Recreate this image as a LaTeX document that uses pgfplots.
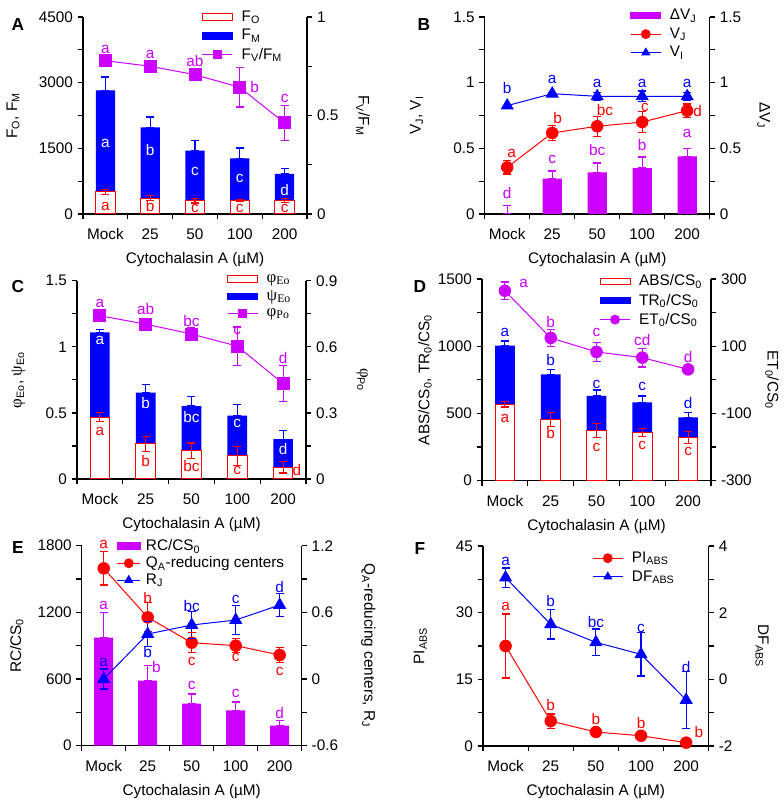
\documentclass[border=0pt]{standalone}
\usepackage{fontspec}
\setmainfont{Liberation Sans}
\newfontfamily\serif{Liberation Serif}[Scale=1.1]
\usepackage{pgfplots}
\pgfplotsset{compat=1.18}
\definecolor{vio}{RGB}{204,0,255}
\definecolor{bl}{RGB}{0,0,255}
\definecolor{rd}{RGB}{255,0,0}
\newcommand{\fs}{\fontsize{11.5}{13.5}\selectfont}
\newcommand{\sub}[1]{\textsubscript{#1}}
\newcommand{\lt}[4]{\node[text=#1, font=\fs, inner sep=0pt] at (axis cs:#2,#3) {#4};}
\newcommand{\eb}[4]{\addplot[color=#1, line width=0.85pt, mark=-, mark size=3pt, mark options={solid, line width=0.85pt, draw=#1}, forget plot] coordinates {(#2,#3) (#2,#4)};}
\newlength{\lgw}\setlength{\lgw}{22.5pt}
\pgfplotsset{
  base/.style={scale only axis, xmin=-0.5, xmax=4.5, clip=false,
    axis line style={-, line width=0.9pt},
    tick style={black, line width=0.9pt},
    tick align=outside, major tick length=4pt, minor tick length=4pt,
    minor y tick num=1,
    tick label style={font=\fs}, label style={font=\fs},
    legend style={font=\fs, draw=none, fill=none, inner sep=0pt, row sep=0.5pt,
      cells={anchor=west}, anchor=north west,
      /tikz/every odd column/.append style={column sep=4.5pt}},
    legend image code/.code={\draw[mark repeat=2,mark phase=2,##1] plot coordinates {(0pt,0pt) (0.5\lgw,0pt) (\lgw,0pt)};},
    legend image post style={mark size=3.3pt},
  },
  lft/.style={base, axis x line*=bottom, axis y line*=left,
    xtick={0,1,2,3,4}, xticklabels={Mock,25,50,100,200},
    major x tick style={draw=none},
    minor xtick={-0.5,0.5,1.5,2.5,3.5,4.5},
    xticklabel style={yshift=-3.5pt},
    xlabel shift=2.5pt,
    xlabel={Cytochalasin A (µM)}},
  rgt/.style={base, axis x line=none, axis y line*=right},
  yl/.style={ylabel style={at={([xshift=-#1]axis description cs:0,0.5)}, anchor=center}},
  yr/.style={ylabel style={at={([xshift=#1]axis description cs:1,0.5)}, anchor=center, rotate=180}},
  bars/.style={ybar, bar width=0.43, bar shift=0pt},
  barleg/.style 2 args={legend image code/.code={\draw[draw=#1, fill=#2, line width=0.75pt] (0pt,-2.5pt) rectangle (\lgw,2.5pt);}},
  ln/.style 2 args={#1, line width=0.75pt, mark=#2, mark options={fill=#1, draw=#1, solid}},
}
\begin{document}
\begin{tikzpicture}[x=0.75pt,y=0.75pt]
\useasboundingbox (0,0) rectangle (784,806);
\tikzset{plab/.style={font=\bfseries\fontsize{13}{15}\selectfont}}
\node[plab] at (18,781) {A};
\node[plab] at (424,781) {B};
\node[plab] at (18,519) {C};
\node[plab] at (420,519) {D};
\node[plab] at (18,258) {E};
\node[plab] at (420,257) {F};

% ---------------- A ----------------
\begin{axis}[lft, at={(62.25pt,444pt)}, anchor=south west, width=168pt, height=147.75pt,
  ymin=0, ymax=4500, ytick={0,1500,3000,4500}, yticklabels={0,1500,3000,4500},
  ylabel={F\sub{O}, F\sub{M}}, yl=52.5pt]
\addplot[bars, fill=bl, draw=none] coordinates {(0,2825) (1,1980) (2,1447) (3,1272) (4,914)};
\eb{bl}{0}{2825}{3130}\eb{bl}{1}{1980}{2216}\eb{bl}{2}{1447}{1683}\eb{bl}{3}{1272}{1508}\eb{bl}{4}{914}{1043}
\addplot[bars, fill=white, draw=rd, line width=0.75pt] coordinates {(0,503) (1,365) (2,305) (3,305) (4,305)};
\eb{rd}{0}{453}{553}\eb{rd}{1}{315}{415}\eb{rd}{2}{250}{360}\eb{rd}{3}{280}{330}\eb{rd}{4}{265}{345}
\lt{white}{0}{1622}{a}\lt{white}{1}{1470}{b}\lt{white}{2}{975}{c}\lt{white}{3}{822}{c}\lt{white}{4}{540}{d}
\lt{rd}{0}{175}{a}\lt{rd}{1}{175}{b}\lt{rd}{2}{137}{c}\lt{rd}{3}{137}{c}\lt{rd}{4}{137}{c}
\end{axis}
\begin{axis}[rgt, at={(62.25pt,444pt)}, anchor=south west, width=168pt, height=147.75pt,
  ymin=0, ymax=1, ytick={0,0.5,1}, yticklabels={0,0.5,1}, ylabel={F\sub{V}/F\sub{M}}, yr=42pt,
  legend style={at={(0.53,1.046)}}]
\addlegendimage{barleg={rd}{white}}\addlegendentry{F\sub{O}}
\addlegendimage{barleg={bl}{bl}}\addlegendentry{F\sub{M}}
\eb{vio}{0}{0.766}{0.790}\eb{vio}{1}{0.738}{0.762}\eb{vio}{2}{0.677}{0.737}\eb{vio}{3}{0.543}{0.743}\eb{vio}{4}{0.374}{0.550}
\addplot[ln={vio}{square*}, mark size=4.5pt] coordinates {(0,0.778) (1,0.750) (2,0.707) (3,0.643) (4,0.462)};
\addlegendentry{F\sub{V}/F\sub{M}}
\lt{vio}{0}{0.834}{a}\lt{vio}{1}{0.812}{a}\lt{vio}{2}{0.775}{ab}\lt{vio}{3.33}{0.645}{b}\lt{vio}{4}{0.585}{c}
\end{axis}

% ---------------- B ----------------
\begin{axis}[lft, at={(363.53pt,444pt)}, anchor=south west, width=168.75pt, height=147.75pt,
  ymin=0, ymax=1.5, ytick={0,0.5,1,1.5}, yticklabels={0,0.5,1,1.5}, ylabel={V\sub{J}, V\sub{I}}, yl=51pt,
  legend style={at={(0.646,1.054)}}]
\addplot[bars, fill=vio, draw=none, barleg={vio}{vio}] coordinates {(0,0) (1,0.269) (2,0.317) (3,0.350) (4,0.439)};
\addlegendentry{ΔV\sub{J}}
\eb{vio}{0}{0.004}{0.063}\eb{vio}{1}{0.269}{0.327}\eb{vio}{2}{0.317}{0.388}\eb{vio}{3}{0.350}{0.434}\eb{vio}{4}{0.439}{0.500}
\eb{rd}{0}{0.305}{0.405}\eb{rd}{1}{0.557}{0.677}\eb{rd}{2}{0.593}{0.743}\eb{rd}{3}{0.62}{0.78}\eb{rd}{4}{0.737}{0.837}
\addplot[ln={rd}{*}, mark size=4.3pt] coordinates {(0,0.355) (1,0.617) (2,0.668) (3,0.70) (4,0.787)};
\addlegendentry{V\sub{J}}
\eb{bl}{1}{0.904}{0.928}\eb{bl}{2}{0.866}{0.926}\eb{bl}{3}{0.856}{0.936}\eb{bl}{4}{0.866}{0.926}
\addplot[ln={bl}{triangle*}, mark size=5pt] coordinates {(0,0.825) (1,0.916) (2,0.896) (3,0.896) (4,0.896)};
\addlegendentry{V\sub{I}}
\lt{bl}{0}{0.959}{b}\lt{bl}{1}{1.023}{a}\lt{bl}{2}{0.997}{a}\lt{bl}{3}{0.997}{a}\lt{bl}{4}{0.997}{a}
\lt{rd}{0.1}{0.464}{a}\lt{rd}{1.12}{0.731}{b}\lt{rd}{2.17}{0.794}{bc}\lt{rd}{3.06}{0.815}{c}\lt{rd}{4.23}{0.782}{d}
\lt{vio}{0}{0.160}{d}\lt{vio}{1}{0.414}{c}\lt{vio}{2}{0.485}{bc}\lt{vio}{3}{0.523}{b}\lt{vio}{4}{0.612}{a}
\end{axis}
\begin{axis}[rgt, at={(363.53pt,444pt)}, anchor=south west, width=168.75pt, height=147.75pt,
  ymin=0, ymax=1.5, ytick={0,0.5,1,1.5}, yticklabels={0,0.5,1,1.5}, ylabel={ΔV\sub{J}}, yr=40.5pt]
\addplot[draw=none, forget plot] coordinates {(0,0)};
\end{axis}

% ---------------- C ----------------
\begin{axis}[lft, at={(57.75pt,245.25pt)}, anchor=south west, width=171.75pt, height=148.7pt,
  ymin=0, ymax=1.5, ytick={0,0.5,1,1.5}, yticklabels={0,0.5,1,1.5},
  ylabel={{\serif φ}\sub{Eo}, {\serif ψ}\sub{Eo}}, yl=44pt]
\addplot[bars, fill=bl, draw=none] coordinates {(0,1.109) (1,0.653) (2,0.552) (3,0.479) (4,0.302)};
\eb{bl}{0}{1.109}{1.134}\eb{bl}{1}{0.653}{0.716}\eb{bl}{2}{0.552}{0.623}\eb{bl}{3}{0.479}{0.562}\eb{bl}{4}{0.302}{0.368}
\addplot[bars, fill=white, draw=rd, line width=0.75pt] coordinates {(0,0.469) (1,0.265) (2,0.212) (3,0.174) (4,0.088)};
\eb{rd}{0}{0.436}{0.502}\eb{rd}{1}{0.21}{0.32}\eb{rd}{2}{0.152}{0.272}\eb{rd}{3}{0.104}{0.244}\eb{rd}{4}{0.045}{0.131}
\lt{white}{0}{1.051}{a}\lt{white}{1}{0.572}{b}\lt{white}{2}{0.466}{bc}\lt{white}{3}{0.421}{c}\lt{white}{4}{0.224}{d}
\lt{rd}{0}{0.358}{a}\lt{rd}{1}{0.136}{b}\lt{rd}{2}{0.098}{bc}\lt{rd}{3}{0.063}{c}\lt{rd}{4.3}{0.068}{d}
\end{axis}
\begin{axis}[rgt, at={(57.75pt,245.25pt)}, anchor=south west, width=171.75pt, height=148.7pt,
  ymin=0, ymax=0.9, ytick={0,0.3,0.6,0.9}, yticklabels={0,0.3,0.6,0.9},
  ylabel={{\serif φ}\sub{Po}}, yr=42pt, legend style={at={(0.654,1.047)}}]
\addlegendimage{barleg={rd}{white}}\addlegendentry{{\serif φ\sub{Eo}}}
\addlegendimage{barleg={bl}{bl}}\addlegendentry{{\serif ψ\sub{Eo}}}
\eb{vio}{0}{0.736}{0.746}\eb{vio}{1}{0.695}{0.711}\eb{vio}{2}{0.63}{0.686}\eb{vio}{3}{0.516}{0.69}\eb{vio}{4}{0.352}{0.514}
\addplot[ln={vio}{square*}, mark size=4.5pt] coordinates {(0,0.741) (1,0.703) (2,0.658) (3,0.603) (4,0.433)};
\addlegendentry{{\serif φ\sub{Po}}}
\lt{vio}{0}{0.797}{a}\lt{vio}{1}{0.771}{ab}\lt{vio}{2}{0.717}{bc}\lt{vio}{3}{0.676}{c}\lt{vio}{4}{0.548}{d}
\end{axis}

% ---------------- D ----------------
\begin{axis}[lft, at={(361.5pt,243.98pt)}, anchor=south west, width=171.75pt, height=151.3pt,
  ymin=0, ymax=1500, ytick={0,500,1000,1500}, yticklabels={0,500,1000,1500},
  ylabel={ABS/CS\sub{0}, TR\sub{0}/CS\sub{0}}, yl=42.75pt]
\addplot[bars, fill=bl, draw=none] coordinates {(0,1004) (1,791) (2,630) (3,583) (4,471)};
\eb{bl}{0}{1004}{1039}\eb{bl}{1}{791}{828}\eb{bl}{2}{630}{674}\eb{bl}{3}{583}{630}\eb{bl}{4}{471}{508}
\addplot[bars, fill=white, draw=rd, line width=0.75pt] coordinates {(0,568) (1,456) (2,374) (3,357) (4,320)};
\eb{rd}{0}{548}{588}\eb{rd}{1}{404}{508}\eb{rd}{2}{322}{426}\eb{rd}{3}{327}{387}\eb{rd}{4}{275}{365}
\lt{bl}{0}{1100}{a}\lt{bl}{1}{897}{b}\lt{bl}{2}{719}{c}\lt{bl}{3}{699}{c}\lt{bl}{4}{575}{d}
\lt{rd}{0}{464}{a}\lt{rd}{1}{352}{b}\lt{rd}{2}{245}{c}\lt{rd}{3}{265}{c}\lt{rd}{4}{216}{c}
\end{axis}
\begin{axis}[rgt, at={(361.5pt,243.98pt)}, anchor=south west, width=171.75pt, height=151.3pt,
  ymin=-300, ymax=300, ytick={-300,-100,100,300}, yticklabels={-300,-100,100,300},
  ylabel={ET\sub{0}/CS\sub{0}}, yr=45.75pt, legend style={at={(0.512,1.035)}}]
\addlegendimage{barleg={rd}{white}}\addlegendentry{ABS/CS\sub{0}}
\addlegendimage{barleg={bl}{bl}}\addlegendentry{TR\sub{0}/CS\sub{0}}
\eb{vio}{0}{239}{291}\eb{vio}{1}{99.5}{149.5}\eb{vio}{2}{54}{112}\eb{vio}{3}{38}{94}\eb{vio}{4}{28}{34}
\addplot[ln={vio}{*}, mark size=4.3pt] coordinates {(0,265) (1,124.5) (2,83) (3,66) (4,31)};
\addlegendentry{ET\sub{0}/CS\sub{0}}
\lt{vio}{0.41}{287}{a}\lt{vio}{1}{173}{b}\lt{vio}{2}{140}{c}\lt{vio}{3}{118}{cd}\lt{vio}{4}{69}{d}
\end{axis}

% ---------------- E ----------------
\begin{axis}[lft, at={(61.28pt,45.23pt)}, anchor=south west, width=165pt, height=150pt,
  ymin=0, ymax=1800, ytick={0,600,1200,1800}, yticklabels={0,600,1200,1800},
  ylabel={RC/CS\sub{0}}, yl=48.75pt]
\addplot[bars, fill=vio, draw=none] coordinates {(0,972) (1,585) (2,378) (3,318) (4,180)};
\eb{vio}{0}{972}{1197}\eb{vio}{1}{585}{720}\eb{vio}{2}{378}{465}\eb{vio}{3}{318}{393}\eb{vio}{4}{180}{228}
\lt{vio}{0}{1266}{a}\lt{vio}{1.2}{705}{b}\lt{vio}{2}{546}{c}\lt{vio}{3}{471}{c}\lt{vio}{4}{297}{d}
\end{axis}
\setlength{\lgw}{17pt}
\begin{axis}[rgt, at={(61.28pt,45.23pt)}, anchor=south west, width=165pt, height=150pt,
  ymin=-0.6, ymax=1.2, ytick={-0.6,0,0.6,1.2}, yticklabels={-0.6,0,0.6,1.2},
  ylabel={Q\sub{A}-reducing centers, R\sub{J}}, yr=50pt, legend style={at={(0.159,1.045)}, row sep=-1pt, /tikz/every odd column/.append style={column sep=2pt}}]
\addlegendimage{barleg={vio}{vio}}\addlegendentry{RC/CS\sub{0}}
\eb{rd}{0}{0.846}{1.146}\eb{rd}{1}{0.425}{0.685}\eb{rd}{2}{0.237}{0.417}\eb{rd}{3}{0.235}{0.365}\eb{rd}{4}{0.151}{0.281}
\addplot[ln={rd}{*}, mark size=4.3pt] coordinates {(0,0.996) (1,0.555) (2,0.327) (3,0.30) (4,0.216)};
\addlegendentry{Q\sub{A}-reducing centers}
\eb{bl}{0}{-0.09}{0.09}\eb{bl}{1}{0.295}{0.515}\eb{bl}{2}{0.366}{0.606}\eb{bl}{3}{0.401}{0.661}\eb{bl}{4}{0.566}{0.766}
\addplot[ln={bl}{triangle*}, mark size=5pt] coordinates {(0,0.0) (1,0.405) (2,0.486) (3,0.531) (4,0.666)};
\addlegendentry{R\sub{J}}
\lt{rd}{0}{1.215}{a}\lt{rd}{1}{0.725}{b}\lt{rd}{2}{0.156}{c}\lt{rd}{3}{0.192}{c}\lt{rd}{4}{0.066}{c}
\lt{bl}{0}{0.147}{a}\lt{bl}{1}{0.246}{b}\lt{bl}{2}{0.657}{bc}\lt{bl}{3}{0.717}{c}\lt{bl}{4}{0.825}{d}
\end{axis}
\setlength{\lgw}{22.5pt}

% ---------------- F ----------------
\begin{axis}[lft, at={(362.25pt,45pt)}, anchor=south west, width=169.3pt, height=150pt,
  ymin=0, ymax=45, ytick={0,15,30,45}, yticklabels={0,15,30,45},
  ylabel={PI\sub{ABS}}, yl=47pt]
\eb{rd}{0}{15.3}{29.7}\eb{rd}{1}{4.0}{7.2}\eb{rd}{2}{2.85}{3.45}\eb{rd}{3}{2.0}{2.6}\eb{rd}{4}{0.55}{0.95}
\addplot[ln={rd}{*}, mark size=4.3pt] coordinates {(0,22.5) (1,5.6) (2,3.15) (3,2.3) (4,0.75)};
\lt{rd}{0}{31.35}{a}\lt{rd}{1}{9.2}{b}\lt{rd}{2}{6.0}{b}\lt{rd}{3}{5.1}{b}\lt{rd}{4.28}{3.2}{b}
\end{axis}
\begin{axis}[rgt, at={(362.25pt,45pt)}, anchor=south west, width=169.3pt, height=150pt,
  ymin=-2, ymax=4, ytick={-2,0,2,4}, yticklabels={-2,0,2,4},
  ylabel={DF\sub{ABS}}, yr=40pt, legend style={at={(0.483,0.985)}}]
\addlegendimage{ln={rd}{*}}\addlegendentry{PI\sub{ABS}}
\eb{bl}{0}{2.76}{3.34}\eb{bl}{1}{1.21}{2.09}\eb{bl}{2}{0.71}{1.51}\eb{bl}{3}{0.10}{1.40}\eb{bl}{4}{-1.48}{0.24}
\addplot[ln={bl}{triangle*}, mark size=5pt] coordinates {(0,3.05) (1,1.65) (2,1.11) (3,0.75) (4,-0.62)};
\addlegendentry{DF\sub{ABS}}
\lt{bl}{0}{3.55}{a}\lt{bl}{1}{2.35}{b}\lt{bl}{2}{1.71}{bc}\lt{bl}{3}{1.53}{c}\lt{bl}{4}{0.36}{d}
\end{axis}
\end{tikzpicture}
\end{document}
